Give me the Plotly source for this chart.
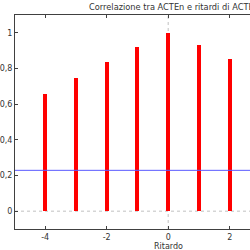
import plotly.graph_objects as go

lags = [-4, -3, -2, -1, 0, 1, 2]
correlations = [0.657, 0.747, 0.834, 0.923, 1.0, 0.933, 0.855]
threshold = 0.229
x_ticks = [-4, -2, 0, 2]
x_tick_labels = ["-4", "-2", "0", "2"]
y_ticks = [0, 0.2, 0.4, 0.6, 0.8, 1]
y_tick_labels = ["0", "0,2", "0,4", "0,6", "0,8", "1"]
title_text = "Correlazione tra ACTEn e ritardi di ACTEn"
x_label = "Ritardo"

x_range = [-4.98, 2.66]
y_range = [-0.1, 1.1]

font_family = "DejaVu Sans"
text_color = "#333333"
axis_color = "#404040"

fig = go.Figure()
fig.add_trace(go.Bar(x=lags, y=correlations, width=0.13,
                     marker=dict(color="#ff0000", line=dict(width=0)),
                     showlegend=False, hoverinfo="skip"))
fig.add_trace(go.Scatter(x=x_range, y=[threshold, threshold], mode="lines",
                         line=dict(color="#5a5aff", width=1),
                         showlegend=False, hoverinfo="skip"))

fig.add_shape(type="line", xref="x", yref="paper", x0=0, x1=0, y0=0, y1=1,
              line=dict(color="#c0c0c0", width=1, dash="dot"), layer="below")
fig.add_shape(type="line", xref="paper", yref="y", x0=0, x1=1, y0=0, y1=0,
              line=dict(color="#c0c0c0", width=1, dash="dot"), layer="below")

fig.add_annotation(text=title_text, xref="paper", yref="paper",
                   x=(87 - 15) / 235, y=1, xanchor="left", yanchor="bottom",
                   yshift=1, showarrow=False,
                   font=dict(family=font_family, size=8.25, color=text_color))
fig.add_annotation(text=x_label, xref="x", yref="paper", x=0, y=0,
                   xanchor="center", yanchor="top", yshift=-11, showarrow=False,
                   font=dict(family=font_family, size=8, color=text_color))

fig.update_layout(
    width=250, height=250,
    margin=dict(l=15, r=0, t=15, b=21),
    paper_bgcolor="white", plot_bgcolor="white",
    bargap=0,
    font=dict(family=font_family, size=8, color=text_color),
    xaxis=dict(range=x_range, tickvals=x_ticks, ticktext=x_tick_labels,
               showgrid=False, zeroline=False,
               showline=True, linecolor=axis_color, linewidth=1,
               mirror="ticks", ticks="inside", ticklen=3, tickcolor=axis_color,
               tickfont=dict(size=8, color=text_color)),
    yaxis=dict(range=y_range, tickvals=y_ticks, ticktext=y_tick_labels,
               showgrid=False, zeroline=False,
               showline=True, linecolor=axis_color, linewidth=1,
               ticks="inside", ticklen=3, tickcolor=axis_color,
               tickfont=dict(size=8, color=text_color)),
)

fig.write_html("out.html")
